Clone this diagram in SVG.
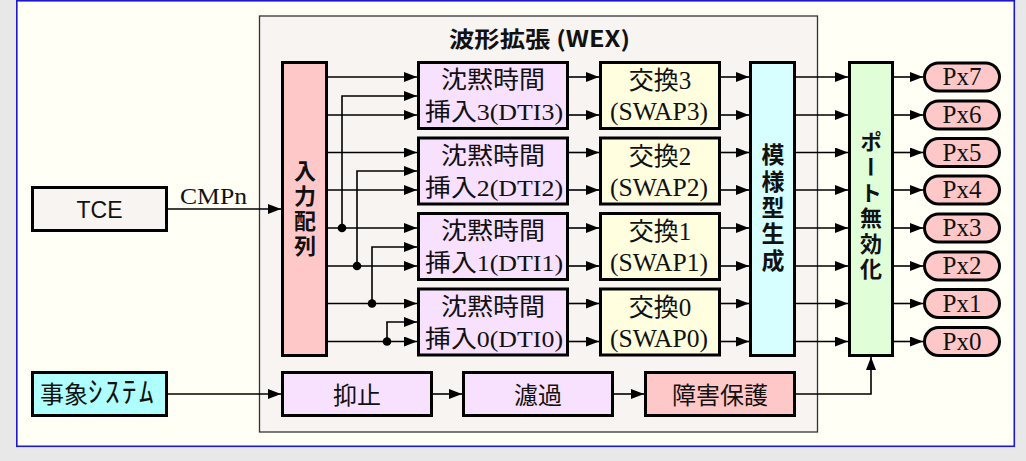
<svg xmlns="http://www.w3.org/2000/svg" width="1026" height="461" viewBox="0 0 1026 461">
<style>
.box{stroke:#000;stroke-width:3}
.ln{fill:none;stroke:#000;stroke-width:1.6}
.sans{font-family:"Liberation Sans","Noto Sans CJK JP",sans-serif}
.cjk{font-family:"Noto Sans CJK JP","Noto Sans",sans-serif}
.ser{font-family:"Liberation Serif","Noto Sans CJK JP",serif}
.vt{font-family:"Noto Sans CJK JP",sans-serif;font-weight:bold;writing-mode:vertical-rl;text-orientation:upright}
text{fill:#111}
</style>
<defs>
<marker id="ah" markerUnits="userSpaceOnUse" markerWidth="13" markerHeight="10" refX="13" refY="5" orient="auto">
<path d="M0,0 L13,5 L0,10 z" fill="#000"/>
</marker>
</defs>
<rect x="0" y="0" width="1026" height="461" fill="#e8e8e8"/>
<rect x="16.8" y="0.8" width="997.5" height="445.5" fill="#fffff6" stroke="#1a1acc" stroke-width="1.6"/>
<g id="wex">
<rect x="259.5" y="16" width="558" height="416" fill="#f8f4f2" stroke="#333" stroke-width="1.3"/>
<text class="cjk" x="449" y="47" font-size="22" font-weight="bold" textLength="181" lengthAdjust="spacingAndGlyphs">波形拡張 (WEX)</text>
</g>
<g id="tce">
<rect class="box" x="32.5" y="187.5" width="134" height="43" fill="#f8f4f2"/>
<text class="sans" x="99.5" y="218" font-size="23" text-anchor="middle">TCE</text>
</g>
<g id="evsys">
<rect class="box" x="32.5" y="372.5" width="134" height="43" fill="#b0ffff"/>
<text class="cjk" x="40" y="403" font-size="24">事象<tspan font-size="29" letter-spacing="2.5">ｼｽﾃﾑ</tspan></text>
</g>
<g id="input">
<rect class="box" x="282.5" y="62.5" width="44" height="293" fill="#ffc8c8"/>
<text class="vt" x="305" y="210" font-size="22" letter-spacing="3" text-anchor="middle">入力配列</text>
</g>
<g id="dti3">
<rect class="box" x="418.5" y="62.5" width="149" height="66" fill="#f8e0ff"/>
<text class="cjk" x="441" y="88" font-size="24" textLength="104" lengthAdjust="spacingAndGlyphs">沈黙時間</text>
<text class="ser" x="425" y="120" font-size="24" textLength="138" lengthAdjust="spacingAndGlyphs">挿入3(DTI3)</text>
</g>
<g id="dti2">
<rect class="box" x="418.5" y="138" width="149" height="66" fill="#f8e0ff"/>
<text class="cjk" x="441" y="163.5" font-size="24" textLength="104" lengthAdjust="spacingAndGlyphs">沈黙時間</text>
<text class="ser" x="425" y="195.5" font-size="24" textLength="138" lengthAdjust="spacingAndGlyphs">挿入2(DTI2)</text>
</g>
<g id="dti1">
<rect class="box" x="418.5" y="213.5" width="149" height="66" fill="#f8e0ff"/>
<text class="cjk" x="441" y="239" font-size="24" textLength="104" lengthAdjust="spacingAndGlyphs">沈黙時間</text>
<text class="ser" x="425" y="271" font-size="24" textLength="138" lengthAdjust="spacingAndGlyphs">挿入1(DTI1)</text>
</g>
<g id="dti0">
<rect class="box" x="418.5" y="289" width="149" height="66" fill="#f8e0ff"/>
<text class="cjk" x="441" y="314.5" font-size="24" textLength="104" lengthAdjust="spacingAndGlyphs">沈黙時間</text>
<text class="ser" x="425" y="346.5" font-size="24" textLength="138" lengthAdjust="spacingAndGlyphs">挿入0(DTI0)</text>
</g>
<g id="swap3">
<rect class="box" x="600.5" y="62.5" width="119" height="66" fill="#ffffe0"/>
<text class="ser" x="660" y="89" font-size="25" text-anchor="middle">交換3</text>
<text class="ser" x="610" y="120" font-size="25" textLength="98" lengthAdjust="spacingAndGlyphs">(SWAP3)</text>
</g>
<g id="swap2">
<rect class="box" x="600.5" y="138" width="119" height="66" fill="#ffffe0"/>
<text class="ser" x="660" y="164.5" font-size="25" text-anchor="middle">交換2</text>
<text class="ser" x="610" y="195.5" font-size="25" textLength="98" lengthAdjust="spacingAndGlyphs">(SWAP2)</text>
</g>
<g id="swap1">
<rect class="box" x="600.5" y="213.5" width="119" height="66" fill="#ffffe0"/>
<text class="ser" x="660" y="240" font-size="25" text-anchor="middle">交換1</text>
<text class="ser" x="610" y="271" font-size="25" textLength="98" lengthAdjust="spacingAndGlyphs">(SWAP1)</text>
</g>
<g id="swap0">
<rect class="box" x="600.5" y="289" width="119" height="66" fill="#ffffe0"/>
<text class="ser" x="660" y="315.5" font-size="25" text-anchor="middle">交換0</text>
<text class="ser" x="610" y="346.5" font-size="25" textLength="98" lengthAdjust="spacingAndGlyphs">(SWAP0)</text>
</g>
<g id="pgen">
<rect class="box" x="750.5" y="62.5" width="44" height="293" fill="#d8ffff"/>
<text class="vt" x="773" y="209" font-size="23" letter-spacing="3.4" text-anchor="middle">模様型生成</text>
</g>
<g id="portdis">
<rect class="box" x="849.5" y="62.5" width="43" height="293" fill="#e0ffd8"/>
<text class="vt" x="871" y="207" font-size="22" letter-spacing="3.5" text-anchor="middle">ポート無効化</text>
</g>
<g id="blank">
<rect class="box" x="282.5" y="372.5" width="149" height="43" fill="#f8e0ff"/>
<text class="cjk" x="357" y="404" font-size="24" text-anchor="middle">抑止</text>
</g>
<g id="filter">
<rect class="box" x="463.5" y="372.5" width="149" height="43" fill="#f8e0ff"/>
<text class="cjk" x="538" y="404" font-size="24" text-anchor="middle">濾過</text>
</g>
<g id="fault">
<rect class="box" x="645.5" y="372.5" width="149" height="43" fill="#ffc8c8"/>
<text class="cjk" x="720" y="404" font-size="24" text-anchor="middle">障害保護</text>
</g>
<g id="px7"><rect class="box" x="924.5" y="63" width="75" height="28" rx="14" fill="#ffc8c8"/><text class="ser" x="962" y="85" font-size="25" text-anchor="middle">Px7</text></g>
<g id="px6"><rect class="box" x="924.5" y="101" width="75" height="28" rx="14" fill="#ffc8c8"/><text class="ser" x="962" y="123" font-size="25" text-anchor="middle">Px6</text></g>
<g id="px5"><rect class="box" x="924.5" y="138.5" width="75" height="28" rx="14" fill="#ffc8c8"/><text class="ser" x="962" y="160.5" font-size="25" text-anchor="middle">Px5</text></g>
<g id="px4"><rect class="box" x="924.5" y="176" width="75" height="28" rx="14" fill="#ffc8c8"/><text class="ser" x="962" y="198" font-size="25" text-anchor="middle">Px4</text></g>
<g id="px3"><rect class="box" x="924.5" y="214" width="75" height="28" rx="14" fill="#ffc8c8"/><text class="ser" x="962" y="236" font-size="25" text-anchor="middle">Px3</text></g>
<g id="px2"><rect class="box" x="924.5" y="252" width="75" height="28" rx="14" fill="#ffc8c8"/><text class="ser" x="962" y="274" font-size="25" text-anchor="middle">Px2</text></g>
<g id="px1"><rect class="box" x="924.5" y="289.5" width="75" height="28" rx="14" fill="#ffc8c8"/><text class="ser" x="962" y="311.5" font-size="25" text-anchor="middle">Px1</text></g>
<g id="px0"><rect class="box" x="924.5" y="327.5" width="75" height="28" rx="14" fill="#ffc8c8"/><text class="ser" x="962" y="349.5" font-size="25" text-anchor="middle">Px0</text></g>
<g id="connectors">
<path class="ln" marker-end="url(#ah)" d="M168,209 H281"/>
<text class="ser" x="180" y="204" font-size="24" textLength="67" lengthAdjust="spacingAndGlyphs">CMPn</text>
<path class="ln" marker-end="url(#ah)" d="M328,77 H417"/>
<path class="ln" marker-end="url(#ah)" d="M328,115 H417"/>
<path class="ln" marker-end="url(#ah)" d="M328,152.5 H417"/>
<path class="ln" marker-end="url(#ah)" d="M328,190 H417"/>
<path class="ln" marker-end="url(#ah)" d="M328,228 H417"/>
<path class="ln" marker-end="url(#ah)" d="M328,266 H417"/>
<path class="ln" marker-end="url(#ah)" d="M328,303.5 H417"/>
<path class="ln" marker-end="url(#ah)" d="M328,341.5 H417"/>
<path class="ln" marker-end="url(#ah)" d="M342,228 V96 H417"/>
<path class="ln" marker-end="url(#ah)" d="M357,266 V171 H417"/>
<path class="ln" marker-end="url(#ah)" d="M372,303.5 V247 H417"/>
<path class="ln" marker-end="url(#ah)" d="M387,341.5 V322 H417"/>
<circle cx="342" cy="228" r="4.3"/>
<circle cx="357" cy="266" r="4.3"/>
<circle cx="372" cy="303.5" r="4.3"/>
<circle cx="387" cy="341.5" r="4.3"/>
<path class="ln" marker-end="url(#ah)" d="M569,77 H599"/>
<path class="ln" marker-end="url(#ah)" d="M569,115 H599"/>
<path class="ln" marker-end="url(#ah)" d="M569,152.5 H599"/>
<path class="ln" marker-end="url(#ah)" d="M569,190 H599"/>
<path class="ln" marker-end="url(#ah)" d="M569,228 H599"/>
<path class="ln" marker-end="url(#ah)" d="M569,266 H599"/>
<path class="ln" marker-end="url(#ah)" d="M569,303.5 H599"/>
<path class="ln" marker-end="url(#ah)" d="M569,341.5 H599"/>
<path class="ln" marker-end="url(#ah)" d="M721,77 H749"/>
<path class="ln" marker-end="url(#ah)" d="M721,115 H749"/>
<path class="ln" marker-end="url(#ah)" d="M721,152.5 H749"/>
<path class="ln" marker-end="url(#ah)" d="M721,190 H749"/>
<path class="ln" marker-end="url(#ah)" d="M721,228 H749"/>
<path class="ln" marker-end="url(#ah)" d="M721,266 H749"/>
<path class="ln" marker-end="url(#ah)" d="M721,303.5 H749"/>
<path class="ln" marker-end="url(#ah)" d="M721,341.5 H749"/>
<path class="ln" marker-end="url(#ah)" d="M796,77 H848"/>
<path class="ln" marker-end="url(#ah)" d="M796,115 H848"/>
<path class="ln" marker-end="url(#ah)" d="M796,152.5 H848"/>
<path class="ln" marker-end="url(#ah)" d="M796,190 H848"/>
<path class="ln" marker-end="url(#ah)" d="M796,228 H848"/>
<path class="ln" marker-end="url(#ah)" d="M796,266 H848"/>
<path class="ln" marker-end="url(#ah)" d="M796,303.5 H848"/>
<path class="ln" marker-end="url(#ah)" d="M796,341.5 H848"/>
<path class="ln" marker-end="url(#ah)" d="M894,77 H923"/>
<path class="ln" marker-end="url(#ah)" d="M894,115 H923"/>
<path class="ln" marker-end="url(#ah)" d="M894,152.5 H923"/>
<path class="ln" marker-end="url(#ah)" d="M894,190 H923"/>
<path class="ln" marker-end="url(#ah)" d="M894,228 H923"/>
<path class="ln" marker-end="url(#ah)" d="M894,266 H923"/>
<path class="ln" marker-end="url(#ah)" d="M894,303.5 H923"/>
<path class="ln" marker-end="url(#ah)" d="M894,341.5 H923"/>
<path class="ln" marker-end="url(#ah)" d="M168,394 H281"/>
<path class="ln" marker-end="url(#ah)" d="M433,394 H462"/>
<path class="ln" marker-end="url(#ah)" d="M614,394 H644"/>
<path class="ln" marker-end="url(#ah)" d="M796,394 H871 V357"/>
</g>
</svg>
